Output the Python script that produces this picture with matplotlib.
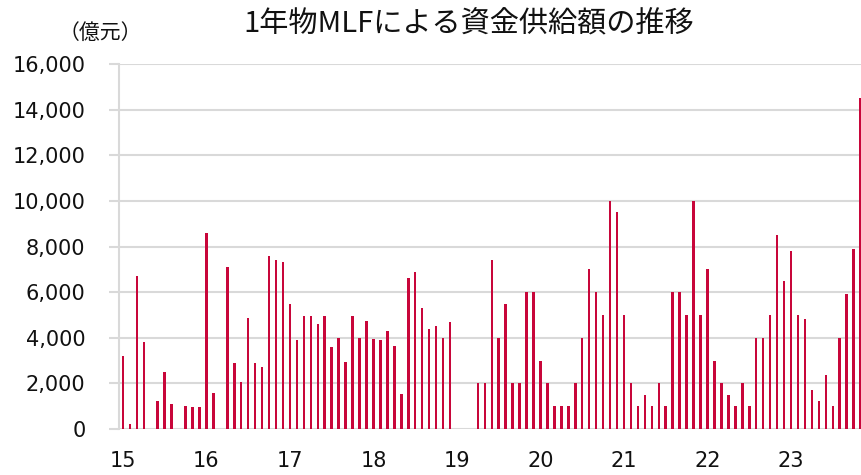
import numpy as np
import matplotlib.pyplot as plt

# 月次データ（2015年1月〜2023年11月、単位：億元）
months = np.arange(107)
mlf = [
    # 2015
    3200, 200, 6700, 3800, 0, 1250, 2500, 1100, 0, 1000, 950, 950,
    # 2016
    8600, 1600, 0, 7100, 2900, 2050, 4850, 2900, 2700, 7600, 7400, 7300,
    # 2017
    5500, 3900, 4950, 4950, 4600, 4950, 3600, 4000, 2950, 4950, 4000, 4750,
    # 2018
    3950, 3900, 4300, 3650, 1550, 6600, 6900, 5300, 4400, 4500, 4000, 4700,
    # 2019
    0, 0, 0, 2000, 2000, 7400, 4000, 5500, 2000, 2000, 6000, 6000,
    # 2020
    3000, 2000, 1000, 1000, 1000, 2000, 4000, 7000, 6000, 5000, 10000, 9500,
    # 2021
    5000, 2000, 1000, 1500, 1000, 2000, 1000, 6000, 6000, 5000, 10000, 5000,
    # 2022
    7000, 3000, 2000, 1500, 1000, 2000, 1000, 4000, 4000, 5000, 8500, 6500,
    # 2023
    7790, 4990, 4810, 1700, 1250, 2370, 1030, 4000, 5910, 7890, 14500,
]
year_labels = ["15", "16", "17", "18", "19", "20", "21", "22", "23"]

grid_c = "#d9d9d9"
jp = ["Noto Sans CJK JP", "DejaVu Sans"]

fig = plt.figure(figsize=(8.62, 4.75), dpi=100)
ax = fig.add_axes([0.138, 0.0968, 0.862, 0.7685])

ax.bar(months, mlf, width=0.36, color="#c8063a", zorder=3)

ax.set_xlim(-0.57, 106.2)
ax.set_ylim(0, 16000)
ax.set_yticks(np.arange(0, 16001, 2000))
ax.set_yticklabels([f"{v:,}" for v in range(0, 16001, 2000)])
ax.set_xticks(np.arange(0, 107, 12))
ax.set_xticklabels(year_labels)

ax.grid(axis="y", color=grid_c, linewidth=1.5, zorder=0)
for s in ["top", "right", "bottom"]:
    ax.spines[s].set_visible(False)
ax.spines["left"].set_color(grid_c)
ax.spines["left"].set_linewidth(1.5)
ax.tick_params(axis="y", length=7, width=1.5, color=grid_c, pad=17,
               labelsize=15, labelcolor="#111111")
ax.tick_params(axis="x", length=0, pad=16, labelsize=15, labelcolor="#111111")

fig.text(0.544, 0.949, "1年物MLFによる資金供給額の推移", ha="center", va="center",
         fontsize=21, family=jp, color="#111111")
fig.text(0.116, 0.93, "（億元）", ha="center", va="center",
         fontsize=15, family=jp, color="#111111")

fig.savefig("out.png", dpi=100)
